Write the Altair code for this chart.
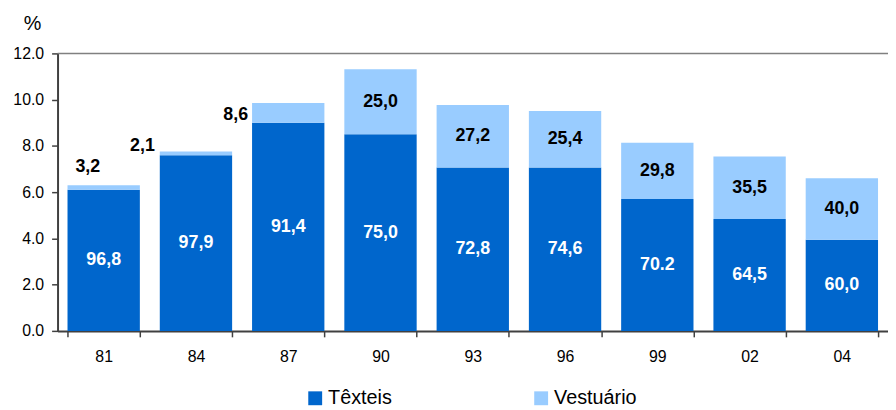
import altair as alt
import pandas as pd

years = ["81", "84", "87", "90", "93", "96", "99", "02", "04"]
texteis = [6.1, 7.6, 9.0, 8.5, 7.07, 7.07, 5.7, 4.84, 3.94]
vestuario = [0.2, 0.16, 0.86, 2.82, 2.7, 2.44, 2.44, 2.7, 2.66]
texteis_share = ["96,8", "97,9", "91,4", "75,0", "72,8", "74,6", "70.2", "64,5", "60,0"]
vestuario_share = ["3,2", "2,1", "8,6", "25,0", "27,2", "25,4", "29,8", "35,5", "40,0"]
series = ["Têxteis", "Vestuário"]
y_ticks = [0, 2, 4, 6, 8, 10, 12]

rows = []
for y, t, v in zip(years, texteis, vestuario):
    rows.append({"year": y, "serie": series[0], "value": t, "ord": 0})
    rows.append({"year": y, "serie": series[1], "value": v, "ord": 1})
long = pd.DataFrame(rows)

lab = pd.DataFrame({
    "year": years,
    "tex_mid": [t / 2 for t in texteis],
    "vest_mid": [t + v / 2 for t, v in zip(texteis, vestuario)],
    "total": [t + v for t, v in zip(texteis, vestuario)],
    "tex_label": texteis_share,
    "vest_label": vestuario_share,
})

FONT = "Liberation Sans"
AX = "#404040"

xscale = alt.Scale(domain=years, paddingInner=0.216)
yscale = alt.Scale(domain=[0, 12], nice=False)

x_enc = alt.X("year:N", sort=years, scale=xscale, title=None,
              axis=alt.Axis(labelAngle=0, tickBand="extent", tickSize=6,
                            labelPadding=12, labelFontSize=16, labelColor="#000000",
                            domainColor=AX, domainWidth=2, tickColor=AX, tickWidth=1.5,
                            grid=False))

bars = alt.Chart(long).mark_bar().encode(
    x=x_enc,
    y=alt.Y("value:Q", stack="zero", scale=yscale, title=None,
            axis=alt.Axis(values=y_ticks, format=".1f", tickSize=6, labelPadding=8,
                          labelFontSize=16, labelColor="#000000",
                          domainColor=AX, domainWidth=2, tickColor=AX, tickWidth=1.5,
                          grid=False)),
    color=alt.Color("serie:N", scale=alt.Scale(domain=series, range=["#0066CC", "#99CCFF"]),
                    legend=alt.Legend(title=None, orient="none", legendX=250, legendY=338,
                                      direction="horizontal", symbolType="square",
                                      symbolSize=196, symbolStrokeWidth=0,
                                      labelFontSize=20, labelColor="#000000",
                                      columnPadding=140, labelOffset=3)),
    order=alt.Order("ord:Q"),
)

top_line = alt.Chart(pd.DataFrame({"v": [12]})).mark_rule(color="#808080", strokeWidth=1.5).encode(
    y=alt.Y("v:Q", scale=yscale, title=None), x=alt.value(0), x2=alt.value(838)
)

xt = alt.X("year:N", sort=years, scale=xscale, title=None)

tex_text = alt.Chart(lab).mark_text(font=FONT, fontSize=18, fontWeight="bold",
                                    color="white", baseline="middle").encode(
    x=xt, y=alt.Y("tex_mid:Q", scale=yscale, title=None), text="tex_label:N")

inside = lab.iloc[3:]
vest_text = alt.Chart(inside).mark_text(font=FONT, fontSize=18, fontWeight="bold",
                                        color="black", baseline="middle").encode(
    x=xt, y=alt.Y("vest_mid:Q", scale=yscale, title=None), text="vest_label:N")

offsets = [(-16, -18), (-54, -5), (-53, 12)]
small_layers = []
for i, (dx, dy) in enumerate(offsets):
    small_layers.append(
        alt.Chart(lab.iloc[[i]]).mark_text(font=FONT, fontSize=18, fontWeight="bold",
                                           color="black", baseline="middle", dx=dx, dy=dy).encode(
            x=xt, y=alt.Y("total:Q", scale=yscale, title=None), text="vest_label:N")
    )

chart = alt.layer(bars, top_line, tex_text, vest_text, *small_layers).properties(
    width=838, height=280,
    autosize=alt.AutoSizeParams(type="none"),
    padding={"left": 50, "top": 44, "right": 0, "bottom": 78},
    title=alt.Title("%", anchor="start", frame="group", orient="top", offset=12, dx=-34,
                    fontSize=20, fontWeight="normal", color="#000000"),
).configure(font=FONT).configure_view(stroke=None)

chart.save("out.html", embed_options={"renderer": "svg", "actions": False})
